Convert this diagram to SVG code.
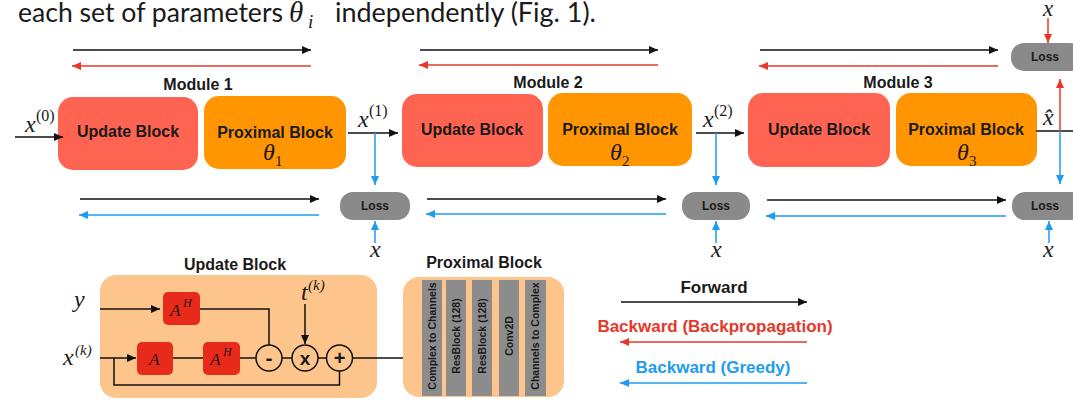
<svg xmlns="http://www.w3.org/2000/svg" width="1073" height="402" viewBox="0 0 1073 402">
  <defs>
    <marker id="ah-k" markerUnits="userSpaceOnUse" markerWidth="10" markerHeight="8" refX="9" refY="4" orient="auto">
      <path d="M0,0 L9,4 L0,8 Z" fill="#111"/>
    </marker>
    <marker id="ah-r" markerUnits="userSpaceOnUse" markerWidth="10" markerHeight="8" refX="9" refY="4" orient="auto">
      <path d="M0,0 L9,4 L0,8 Z" fill="#e8372a"/>
    </marker>
    <marker id="ah-b" markerUnits="userSpaceOnUse" markerWidth="10" markerHeight="8" refX="9" refY="4" orient="auto">
      <path d="M0,0 L9,4 L0,8 Z" fill="#1e9cf0"/>
    </marker>
    <style>
      .sans { font-family: "Liberation Sans", Arial, sans-serif; font-weight: bold; fill: #1a1a1a; }
      .lbl { font-size: 16px; text-anchor: middle; }
      .loss-t { font-size: 12px; text-anchor: middle; }
      .math { font-family: "Liberation Serif", "Times New Roman", serif; font-style: italic; fill: #1a1a1a; }
      .up { font-family: "Liberation Serif", "Times New Roman", serif; fill: #1a1a1a; }
      .upd { fill: #ff6352; }
      .prox { fill: #ff9500; }
      .loss { fill: #8a8a8a; }
      .panel { fill: #fdc48c; }
      .op { fill: #e82a1a; }
      .col { fill: #8c8c8c; }
      .col-t { font-family: "Liberation Sans", Arial, sans-serif; font-weight: bold; font-size: 10.5px; fill: #1a1a1a; text-anchor: middle; }
      .k { stroke: #111; stroke-width: 1.5; fill: none; }
      .r { stroke: #e8372a; stroke-width: 1.5; fill: none; }
      .b { stroke: #1e9cf0; stroke-width: 1.5; fill: none; }
      .circ { fill: none; stroke: #111; stroke-width: 1.5; }
      .sym { font-family: "Liberation Sans", Arial, sans-serif; font-weight: bold; fill: #1a1a1a; text-anchor: middle; }
    </style>
  </defs>
  <rect width="1073" height="402" fill="#ffffff"/>

  <!-- heading sentence -->
  <g id="heading" font-family="Lato, 'Open Sans', sans-serif" font-size="26" fill="#1a1a1a">
    <text x="18" y="22" textLength="265" lengthAdjust="spacingAndGlyphs">each set of parameters</text>
    <text x="289" y="22" class="math" font-size="29">θ</text>
    <text x="308" y="28" class="math" font-size="19">i</text>
    <text x="335" y="22" textLength="261" lengthAdjust="spacingAndGlyphs">independently (Fig. 1).</text>
  </g>

  <!-- module 1 -->
  <g id="module1">
    <text class="sans lbl" x="198" y="90">Module 1</text>
    <g id="update1">
      <rect class="upd" x="58" y="97" width="140" height="73" rx="15"/>
      <text class="sans lbl" x="128" y="137">Update Block</text>
    </g>
    <g id="prox1">
      <rect class="prox" x="204" y="96" width="142" height="73" rx="15"/>
      <text class="sans lbl" x="275" y="138">Proximal Block</text>
      <text class="math" x="263" y="160" font-size="24">θ</text>
      <text class="up" x="275" y="166" font-size="15">1</text>
    </g>
  </g>

  <!-- module 2 -->
  <g id="module2">
    <text class="sans lbl" x="548" y="88">Module 2</text>
    <g id="update2">
      <rect class="upd" x="402" y="94" width="141" height="73" rx="15"/>
      <text class="sans lbl" x="472" y="135">Update Block</text>
    </g>
    <g id="prox2">
      <rect class="prox" x="548" y="93" width="144" height="73" rx="15"/>
      <text class="sans lbl" x="620" y="135">Proximal Block</text>
      <text class="math" x="610" y="160" font-size="24">θ</text>
      <text class="up" x="622" y="166" font-size="15">2</text>
    </g>
  </g>

  <!-- module 3 -->
  <g id="module3">
    <text class="sans lbl" x="898" y="88">Module 3</text>
    <g id="update3">
      <rect class="upd" x="748" y="93" width="142" height="74" rx="15"/>
      <text class="sans lbl" x="819" y="135">Update Block</text>
    </g>
    <g id="prox3">
      <rect class="prox" x="896" y="93" width="141" height="73" rx="15"/>
      <text class="sans lbl" x="966" y="135">Proximal Block</text>
      <text class="math" x="957" y="160" font-size="24">θ</text>
      <text class="up" x="969" y="166" font-size="15">3</text>
    </g>
  </g>

  <!-- loss nodes -->
  <g id="loss1">
    <rect class="loss" x="340" y="192" width="70" height="28" rx="13"/>
    <text class="sans loss-t" x="375" y="210">Loss</text>
  </g>
  <g id="loss2">
    <rect class="loss" x="682" y="192" width="68" height="28" rx="13"/>
    <text class="sans loss-t" x="716" y="210">Loss</text>
  </g>
  <g id="loss3">
    <rect class="loss" x="1012" y="192" width="72" height="28" rx="13"/>
    <text class="sans loss-t" x="1045" y="210">Loss</text>
  </g>
  <g id="loss-top">
    <rect class="loss" x="1011" y="43" width="72" height="28" rx="13"/>
    <text class="sans loss-t" x="1045" y="61">Loss</text>
  </g>

  <!-- signal labels -->
  <g id="signals">
    <text class="math" x="25" y="132" font-size="24">x</text>
    <text class="up" x="36" y="121" font-size="16">(0)</text>
    <text class="math" x="358" y="127" font-size="24">x</text>
    <text class="up" x="369" y="116" font-size="16">(1)</text>
    <text class="math" x="703" y="127" font-size="24">x</text>
    <text class="up" x="714" y="116" font-size="16">(2)</text>
    <text class="math" x="1043" y="125" font-size="24">x̂</text>
    <text class="math" x="370" y="257" font-size="24">x</text>
    <text class="math" x="711" y="257" font-size="24">x</text>
    <text class="math" x="1043" y="257" font-size="24">x</text>
    <text class="math" x="1043" y="16" font-size="23">x</text>
  </g>

  <!-- connectors -->
  <g id="connectors">
    <!-- main forward chain -->
    <line class="k" x1="15" y1="137" x2="63" y2="137" marker-end="url(#ah-k)"/>
    <line class="k" x1="348" y1="133" x2="398" y2="133" marker-end="url(#ah-k)"/>
    <line class="k" x1="696" y1="133" x2="744" y2="133" marker-end="url(#ah-k)"/>
    <line class="k" x1="1036" y1="131" x2="1073" y2="131"/>

    <!-- top propagation arrows -->
    <line class="k" x1="73" y1="50" x2="311" y2="50" marker-end="url(#ah-k)"/>
    <line class="r" x1="311" y1="66" x2="72" y2="66" marker-end="url(#ah-r)"/>
    <line class="k" x1="420" y1="50" x2="658" y2="50" marker-end="url(#ah-k)"/>
    <line class="r" x1="658" y1="65" x2="419" y2="65" marker-end="url(#ah-r)"/>
    <line class="k" x1="760" y1="50" x2="998" y2="50" marker-end="url(#ah-k)"/>
    <line class="r" x1="998" y1="66" x2="759" y2="66" marker-end="url(#ah-r)"/>

    <!-- bottom propagation arrows -->
    <line class="k" x1="80" y1="199" x2="319" y2="199" marker-end="url(#ah-k)"/>
    <line class="b" x1="319" y1="215" x2="79" y2="215" marker-end="url(#ah-b)"/>
    <line class="k" x1="427" y1="199" x2="666" y2="199" marker-end="url(#ah-k)"/>
    <line class="b" x1="666" y1="214" x2="426" y2="214" marker-end="url(#ah-b)"/>
    <line class="k" x1="767" y1="200" x2="1006" y2="200" marker-end="url(#ah-k)"/>
    <line class="b" x1="1006" y1="216" x2="766" y2="216" marker-end="url(#ah-b)"/>

    <!-- greedy loss taps -->
    <line class="b" x1="375" y1="133" x2="375" y2="185" marker-end="url(#ah-b)"/>
    <line class="b" x1="375" y1="243" x2="375" y2="221" marker-end="url(#ah-b)"/>
    <line class="b" x1="716" y1="133" x2="716" y2="185" marker-end="url(#ah-b)"/>
    <line class="b" x1="716" y1="243" x2="716" y2="221" marker-end="url(#ah-b)"/>
    <line class="b" x1="1060" y1="131" x2="1060" y2="184" marker-end="url(#ah-b)"/>
    <line class="b" x1="1049" y1="243" x2="1049" y2="221" marker-end="url(#ah-b)"/>

    <!-- end-to-end loss -->
    <line class="r" x1="1060" y1="131" x2="1060" y2="79" marker-end="url(#ah-r)"/>
    <line class="r" x1="1048" y1="18" x2="1048" y2="43" marker-end="url(#ah-r)"/>
  </g>

  <!-- update block detail -->
  <g id="update-detail">
    <text class="sans lbl" x="235" y="270">Update Block</text>
    <rect class="panel" x="100" y="275" width="277" height="123" rx="16"/>
    <rect class="op" x="163" y="292" width="37" height="33" rx="5"/>
    <text class="math" x="170" y="316" font-size="17">A</text>
    <text class="math" x="183" y="307" font-size="12">H</text>
    <rect class="op" x="137" y="342" width="36" height="33" rx="5"/>
    <text class="math" x="149" y="365" font-size="17">A</text>
    <rect class="op" x="203" y="342" width="37" height="33" rx="5"/>
    <text class="math" x="210" y="365" font-size="17">A</text>
    <text class="math" x="223" y="356" font-size="12">H</text>
    <circle class="circ" cx="269" cy="358" r="13"/>
    <text class="sym" x="269" y="364.5" font-size="21">-</text>
    <circle class="circ" cx="305" cy="358" r="13"/>
    <text class="sym" x="305" y="364.5" font-size="19">x</text>
    <circle class="circ" cx="339.5" cy="358" r="13"/>
    <text class="sym" x="339.5" y="365" font-size="20">+</text>
    <text class="math" x="74" y="307" font-size="24">y</text>
    <text class="math" x="63" y="365" font-size="24">x</text>
    <text class="math" x="75" y="355" font-size="15">(k)</text>
    <text class="math" x="301" y="300" font-size="24">t</text>
    <text class="math" x="308" y="290" font-size="15">(k)</text>
    <g fill="none" stroke="#111" stroke-width="1.5">
      <line x1="100" y1="309" x2="160" y2="309" marker-end="url(#ah-k)"/>
      <polyline points="200,309 269,309 269,345"/>
      <line x1="100" y1="358" x2="136" y2="358" marker-end="url(#ah-k)"/>
      <line x1="173" y1="358" x2="203" y2="358"/>
      <line x1="240" y1="358" x2="256" y2="358"/>
      <line x1="282" y1="358" x2="292" y2="358"/>
      <line x1="318" y1="358" x2="326.5" y2="358"/>
      <line x1="305" y1="304" x2="305" y2="344" marker-end="url(#ah-k)"/>
      <polyline points="114,358 114,385 339.5,385 339.5,371"/>
      <line x1="352.5" y1="358" x2="417" y2="358" marker-end="url(#ah-k)"/>
    </g>
  </g>

  <!-- proximal block detail -->
  <g id="proximal-detail">
    <text class="sans lbl" x="484" y="268">Proximal Block</text>
    <rect class="panel" x="403" y="277" width="161" height="120" rx="16"/>
    <rect class="col" x="422" y="280" width="20" height="116"/>
    <rect class="col" x="446" y="280" width="20" height="116"/>
    <rect class="col" x="472" y="280" width="20" height="116"/>
    <rect class="col" x="499" y="280" width="20" height="116"/>
    <rect class="col" x="525" y="280" width="21" height="116"/>
    <text class="col-t" transform="translate(435.8,336) rotate(-90)">Complex to Channels</text>
    <text class="col-t" transform="translate(459.8,336) rotate(-90)">ResBlock (128)</text>
    <text class="col-t" transform="translate(485.8,336) rotate(-90)">ResBlock (128)</text>
    <text class="col-t" transform="translate(512.8,336) rotate(-90)">Conv2D</text>
    <text class="col-t" transform="translate(539.3,336) rotate(-90)">Channels to Complex</text>
  </g>

  <!-- legend -->
  <g id="legend">
    <text class="sans" x="714" y="293" font-size="17" text-anchor="middle">Forward</text>
    <line class="k" x1="621" y1="302" x2="807" y2="302" marker-end="url(#ah-k)"/>
    <text class="sans" x="715" y="332" font-size="17" text-anchor="middle" style="fill:#e8372a">Backward (Backpropagation)</text>
    <line class="r" x1="807" y1="342" x2="620" y2="342" marker-end="url(#ah-r)"/>
    <text class="sans" x="713" y="373" font-size="17" text-anchor="middle" style="fill:#1e9cf0">Backward (Greedy)</text>
    <line class="b" x1="807" y1="383" x2="620" y2="383" marker-end="url(#ah-b)"/>
  </g>
</svg>
